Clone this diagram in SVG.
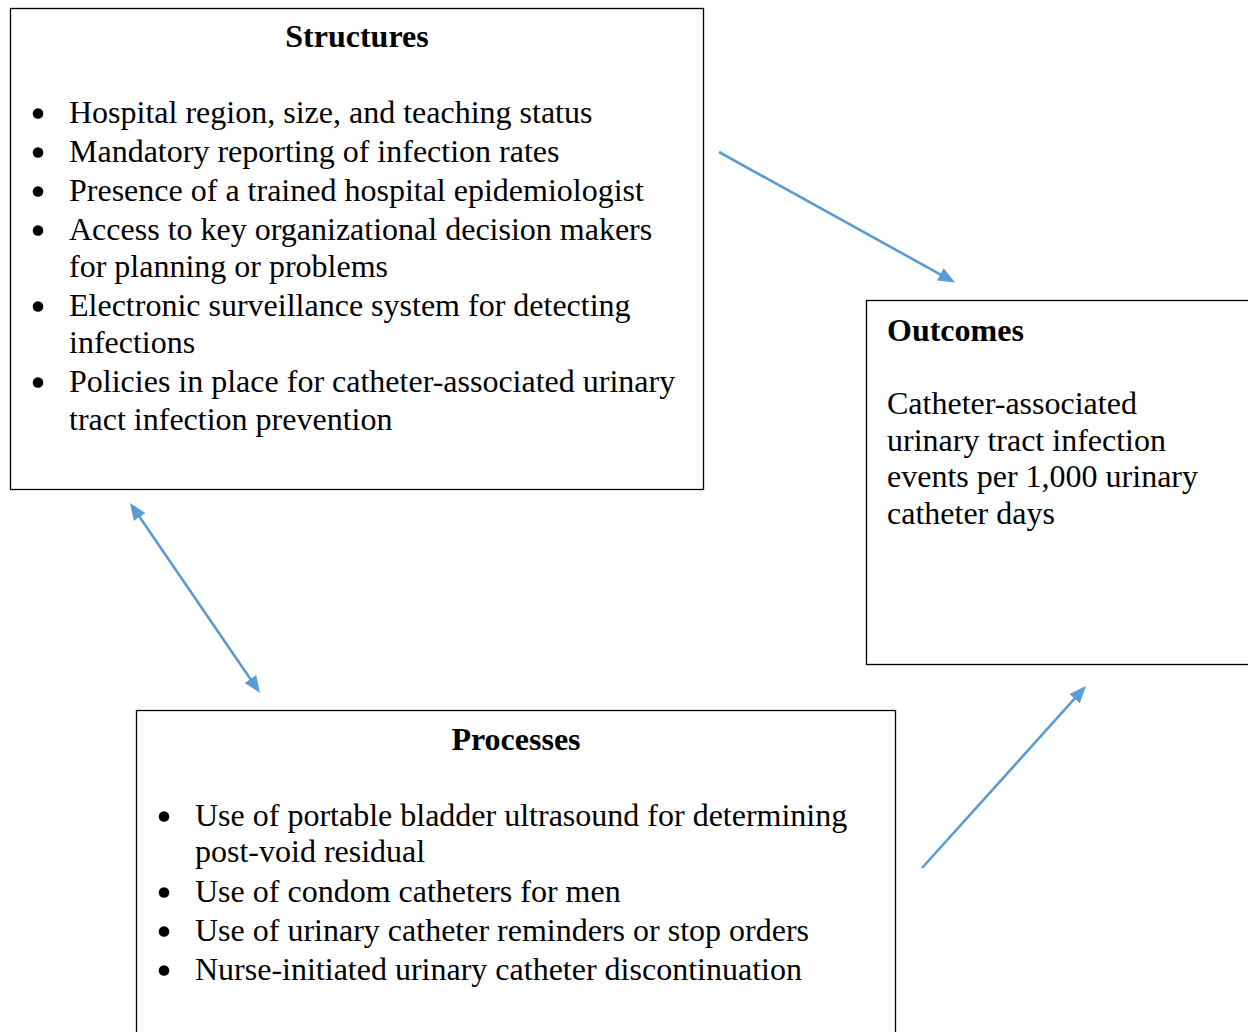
<svg xmlns="http://www.w3.org/2000/svg" width="1248" height="1032" viewBox="0 0 1248 1032">
<defs>
<style>
.box{fill:#fff;stroke:#000;stroke-width:1.3}
.t{font-family:"Liberation Serif","Times New Roman",serif;font-size:32px;fill:#000}
.h{font-family:"Liberation Serif","Times New Roman",serif;font-size:32px;font-weight:bold;fill:#000}
.dot{fill:#000}
.conn{stroke:#5B9BD5;stroke-width:2.6;fill:none}
</style>
<marker id="ah" markerUnits="userSpaceOnUse" viewBox="0 0 17 14" refX="6" refY="7" markerWidth="17" markerHeight="14" orient="auto-start-reverse">
<path d="M0,0 L17,7 L0,14 Z" fill="#5B9BD5"/>
</marker>
</defs>
<rect width="1248" height="1032" fill="#fff"/>
<g id="structures">
<rect class="box" x="10.5" y="8.5" width="693" height="481"/>
<text class="h" x="357" y="47" text-anchor="middle">Structures</text>
<g class="dot">
<circle cx="38" cy="113.5" r="5.3"/>
<circle cx="38" cy="152.5" r="5.3"/>
<circle cx="38" cy="191.5" r="5.3"/>
<circle cx="38" cy="230.5" r="5.3"/>
<circle cx="38" cy="306.5" r="5.3"/>
<circle cx="38" cy="382.5" r="5.3"/>
</g>
<g class="t">
<text x="69" y="123">Hospital region, size, and teaching status</text>
<text x="69" y="162">Mandatory reporting of infection rates</text>
<text x="69" y="201">Presence of a trained hospital epidemiologist</text>
<text x="69" y="240">Access to key organizational decision makers</text>
<text x="69" y="277">for planning or problems</text>
<text x="69" y="316">Electronic surveillance system for detecting</text>
<text x="69" y="353">infections</text>
<text x="69" y="392">Policies in place for catheter-associated urinary</text>
<text x="69" y="430">tract infection prevention</text>
</g>
</g>
<g id="outcomes">
<rect class="box" x="866.5" y="300.5" width="400" height="364"/>
<text class="h" x="887" y="341">Outcomes</text>
<g class="t">
<text x="887" y="414">Catheter-associated</text>
<text x="887" y="451">urinary tract infection</text>
<text x="887" y="487">events per 1,000 urinary</text>
<text x="887" y="524">catheter days</text>
</g>
</g>
<g id="processes">
<rect class="box" x="136.5" y="710.5" width="759" height="340"/>
<text class="h" x="516" y="750" text-anchor="middle">Processes</text>
<g class="dot">
<circle cx="164" cy="816.5" r="5.3"/>
<circle cx="164" cy="892.5" r="5.3"/>
<circle cx="164" cy="931.5" r="5.3"/>
<circle cx="164" cy="970.5" r="5.3"/>
</g>
<g class="t">
<text x="195" y="826">Use of portable bladder ultrasound for determining</text>
<text x="195" y="862">post-void residual</text>
<text x="195" y="902">Use of condom catheters for men</text>
<text x="195" y="941">Use of urinary catheter reminders or stop orders</text>
<text x="195" y="980">Nurse-initiated urinary catheter discontinuation</text>
</g>
</g>
<g id="connectors">
<path class="conn" d="M719,152 L945.5,277.3" marker-end="url(#ah)"/>
<path class="conn" d="M136.2,512.1 L253.8,683.9" marker-start="url(#ah)" marker-end="url(#ah)"/>
<path class="conn" d="M922,868 L1078.6,694.2" marker-end="url(#ah)"/>
</g>
</svg>
